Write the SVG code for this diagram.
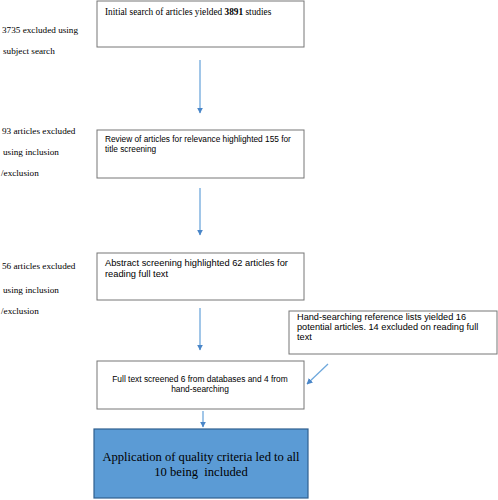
<svg xmlns="http://www.w3.org/2000/svg" width="498" height="500" viewBox="0 0 498 500">
<defs>
<style>
.box{fill:#ffffff;stroke:#767676;stroke-width:1}
.serif{font-family:"Liberation Serif","Times New Roman",serif;fill:#000}
.sans{font-family:"Liberation Sans",Arial,sans-serif;fill:#000}
.conn{stroke:#6fa8dc;stroke-width:1.3;fill:none}
</style>
<marker id="ah" viewBox="0 0 10 10" refX="9" refY="5" markerWidth="6" markerHeight="6" orient="auto" markerUnits="userSpaceOnUse">
<path d="M0,0 L10,5 L0,10 z" fill="#4a86c8"/>
</marker>
</defs>
<rect width="498" height="500" fill="#ffffff"/>
<g id="labels" class="serif" font-size="9.2">
<text x="2" y="33">3735 excluded using</text>
<text x="3" y="54">subject search</text>
<text x="2" y="134">93 articles excluded</text>
<text x="3" y="155">using inclusion</text>
<text x="1" y="176">/exclusion</text>
<text x="2" y="269">56 articles excluded</text>
<text x="3" y="293">using inclusion</text>
<text x="1" y="314">/exclusion</text>
</g>
<g id="n1">
<rect class="box" x="97" y="1" width="207" height="46"/>
<text class="serif" x="105" y="15" font-size="9.3">Initial search of articles yielded <tspan font-weight="bold">3891</tspan> studies</text>
</g>
<g id="n2">
<rect class="box" x="97" y="130" width="207" height="48"/>
<text class="sans" x="105" y="142" font-size="8.3">Review of articles for relevance highlighted 155 for</text>
<text class="sans" x="105" y="152" font-size="8.3">title screening</text>
</g>
<g id="n3">
<rect class="box" x="97" y="253" width="207" height="47"/>
<text class="sans" x="105" y="266" font-size="9.3">Abstract screening highlighted 62 articles for</text>
<text class="sans" x="105" y="277" font-size="9.3">reading full text</text>
</g>
<g id="n4">
<rect class="box" x="289" y="311" width="208" height="43"/>
<text class="sans" x="297" y="320" font-size="9.2">Hand-searching reference lists yielded 16</text>
<text class="sans" x="297" y="330" font-size="9.2">potential articles. 14 excluded on reading full</text>
<text class="sans" x="297" y="340" font-size="9.2">text</text>
</g>
<g id="n5">
<rect class="box" x="97" y="361" width="207" height="48"/>
<text class="sans" x="200" y="382" font-size="8.4" text-anchor="middle">Full text screened 6 from databases and 4 from</text>
<text class="sans" x="200" y="392" font-size="8.4" text-anchor="middle">hand-searching</text>
</g>
<g id="n6">
<rect x="94" y="429" width="214" height="69" fill="#5b9bd5" stroke="#2f5f8f" stroke-width="1.2"/>
<text class="serif" x="201" y="461" font-size="12.6" text-anchor="middle">Application of quality criteria led to all</text>
<text class="serif" x="201" y="476" font-size="12.6" text-anchor="middle" xml:space="preserve">10 being  included</text>
</g>
<g id="connectors">
<line class="conn" x1="200" y1="60" x2="200" y2="113" marker-end="url(#ah)"/>
<line class="conn" x1="200" y1="188" x2="200" y2="235" marker-end="url(#ah)"/>
<line class="conn" x1="200" y1="308" x2="200" y2="350" marker-end="url(#ah)"/>
<line class="conn" x1="328" y1="364" x2="307" y2="384" marker-end="url(#ah)"/>
<line class="conn" x1="203" y1="411" x2="203" y2="427" marker-end="url(#ah)"/>
</g>
</svg>
